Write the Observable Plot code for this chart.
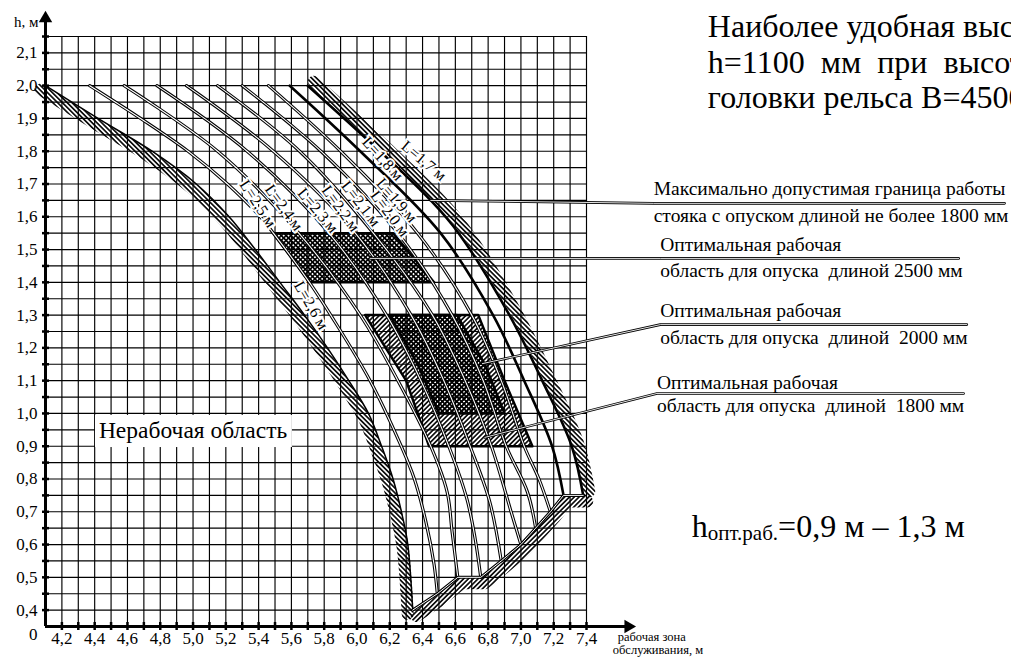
<!DOCTYPE html>
<html>
<head>
<meta charset="utf-8">
<script src="https://cdn.jsdelivr.net/npm/d3@7"></script>
<script src="https://cdn.jsdelivr.net/npm/@observablehq/plot@0.6"></script>
<style>
  html, body { margin: 0; padding: 0; background: #fff; }
  #chart svg { display: block; }
</style>
</head>
<body>
<div id="chart"></div>
<script>
const SERIF = "'Liberation Serif', 'Times New Roman', serif";

// ---------- tick values ----------
const X_LABELS = [4.2,4.4,4.6,4.8,5.0,5.2,5.4,5.6,5.8,6.0,6.2,6.4,6.6,6.8,7.0,7.2,7.4];
const X_GRID = [4.2,4.3,4.4,4.5,4.6,4.7,4.8,4.9,5.0,5.1,5.2,5.3,5.4,5.5,5.6,5.7,5.8,5.9,6.0,6.1,6.2,6.3,6.4,6.5,6.6,6.7,6.8,6.9,7.0,7.1,7.2,7.3,7.4];
const Y_LABELS = [0.4,0.5,0.6,0.7,0.8,0.9,1.0,1.1,1.2,1.3,1.4,1.5,1.6,1.7,1.8,1.9,2.0,2.1];
const Y_GRID = [0.40,0.45,0.50,0.55,0.60,0.65,0.70,0.75,0.80,0.85,0.90,0.95,1.00,1.05,1.10,1.15,1.20,1.25,1.30,1.35,1.40,1.45,1.50,1.55,1.60,1.65,1.70,1.75,1.80,1.85,1.90,1.95,2.00,2.05,2.10,2.15];

// ---------- curves: [x (m), h (m)] for each opusk length L ----------
const L26 = [[4.10,2.00],[4.42,1.90],[4.75,1.80],[5.02,1.70],[5.22,1.60],[5.38,1.50],[5.53,1.40],[5.68,1.30],[5.82,1.20],[5.95,1.10],[6.07,1.00],[6.15,0.90],[6.22,0.80],[6.28,0.68],[6.31,0.60],[6.34,0.40]];
const L25 = [[4.37,2.00],[4.68,1.90],[4.97,1.80],[5.21,1.70],[5.41,1.60],[5.49,1.55],[5.71,1.40],[5.84,1.30],[6.08,1.10],[6.27,0.90],[6.35,0.80],[6.42,0.67],[6.47,0.54],[6.49,0.45]];
const L24 = [[4.58,2.00],[5.15,1.80],[5.645,1.55],[6.02,1.30],[6.25,1.10],[6.45,0.90],[6.55,0.76],[6.58,0.64],[6.615,0.50]];
const L23 = [[4.78,2.00],[5.33,1.80],[5.83,1.55],[6.18,1.30],[6.39,1.10],[6.56,0.90],[6.67,0.74],[6.72,0.62],[6.755,0.50]];
const L22 = [[4.96,2.00],[5.49,1.80],[5.99,1.55],[6.33,1.30],[6.53,1.10],[6.69,0.90],[6.81,0.73],[6.88,0.55]];
const L21 = [[5.15,2.00],[5.65,1.80],[6.10,1.55],[6.46,1.30],[6.66,1.10],[6.82,0.90],[6.94,0.70],[7.00,0.60]];
const L20 = [[5.30,2.00],[5.78,1.80],[6.25,1.55],[6.58,1.30],[6.77,1.10],[6.91,0.90],[7.04,0.76],[7.09,0.65]];
const L19 = [[5.46,2.00],[5.90,1.80],[6.37,1.55],[6.70,1.30],[6.88,1.10],[7.02,0.90],[7.11,0.80],[7.18,0.70]];
const L18 = [[5.59,2.00],[6.02,1.80],[6.51,1.55],[6.83,1.30],[7.02,1.10],[7.19,0.90],[7.26,0.75]];
const L17 = [[5.70,2.00],[6.14,1.80],[6.45,1.65],[6.62,1.55],[6.93,1.30],[7.13,1.10],[7.31,0.90],[7.38,0.75]];
const BOTTOM = [[6.34,0.40],[6.49,0.45],[6.615,0.50],[6.755,0.50],[6.88,0.55],[7.00,0.60],[7.09,0.65],[7.18,0.70],[7.26,0.75],[7.38,0.75]];
const DOUBLE_CURVES = [L25, L24, L23, L22, L21, L20, L19];

// ---------- curve labels ----------
const CURVE_LABELS = [
  {x: 5.72, h: 1.330, text: "L=2,6 м", angle: 60},
  {x: 5.395, h: 1.640, text: "L=2,5 м", angle: 57},
  {x: 5.554, h: 1.628, text: "L=2,4 м", angle: 54},
  {x: 5.761, h: 1.619, text: "L=2,3 м", angle: 50},
  {x: 5.90, h: 1.625, text: "L=2,2 м", angle: 54},
  {x: 6.023, h: 1.640, text: "L=2,1 м", angle: 52},
  {x: 6.20, h: 1.610, text: "L=2,0 м", angle: 53},
  {x: 6.242, h: 1.650, text: "L=1,9 м", angle: 49},
  {x: 6.157, h: 1.777, text: "L=1,8 м", angle: 48},
  {x: 6.407, h: 1.771, text: "L=1,7 м", angle: 40}
];

// ---------- optimal working regions (rows: h, left x, right x) ----------
const REGION_2500 = [{h: 1.55, left: 5.49, right: 6.22}, {h: 1.40, left: 5.71, right: 6.47}];
const REGION_1800 = [{h: 1.30, left: 6.05, right: 6.74}, {h: 1.10, left: 6.30, right: 6.90}, {h: 0.90, left: 6.44, right: 7.07}];
const REGION_2000 = [{h: 1.30, left: 6.20, right: 6.61}, {h: 1.15, left: 6.37, right: 6.78}, {h: 1.00, left: 6.50, right: 6.90}];

// ---------- annotations ----------
const LEADERS = [
  [[6.45,1.650],[7.81,1.641],[9.95,1.641]],
  [[6.08,1.473],[7.85,1.473],[9.67,1.473]],
  [[6.765,1.152],[7.85,1.271],[9.72,1.271]],
  [[6.78,0.927],[7.83,1.061],[9.70,1.061]]
];
const NOTES = [
  {x: 7.81, h: 1.665, text: "Максимально допустимая граница работы"},
  {x: 7.81, h: 1.583, text: "стояка с опуском длиной не более 1800 мм"},
  {x: 7.85, h: 1.497, text: "Оптимальная рабочая"},
  {x: 7.85, h: 1.415, text: "область для опуска  длиной 2500 мм"},
  {x: 7.85, h: 1.293, text: "Оптимальная рабочая"},
  {x: 7.85, h: 1.213, text: "область для опуска  длиной  2000 мм"},
  {x: 7.83, h: 1.076, text: "Оптимальная рабочая"},
  {x: 7.83, h: 1.003, text: "область для опуска  длиной  1800 мм"}
];
const TOP_NOTE = [
  {x: 8.14, h: 2.147, text: "Наиболее удобная высота"},
  {x: 8.14, h: 2.040, text: "h=1100  мм  при  высоте"},
  {x: 8.14, h: 1.933, text: "головки рельса В=4500 мм"}
];
const NONWORK = {x1: 4.405, x2: 5.606, y1: 0.896, y2: 0.994, x: 5.0, h: 0.924, text: "Нерабочая область"};
const H_OPT = {x: 8.045, h: 0.622, main: "h", sub: "опт.раб.", rest: "=0,9 м – 1,3 м"};
const X_TITLE = [{x: 7.59, h: 0.306, text: "рабочая зона"}, {x: 7.56, h: 0.266, text: "обслуживания, м"}];

const fmt = d => d.toFixed(1).replace(".", ",");
const px = d => d[0], py = d => d[1];
const ring = rows => [...rows.map(r => [r.left, r.h]), ...rows.slice().reverse().map(r => [r.right, r.h]), [rows[0].left, rows[0].h]];

const marks = [
  // grid
  Plot.gridX(X_GRID, {stroke: "#000", strokeOpacity: 1, strokeWidth: 1.15}),
  Plot.gridY(Y_GRID, {stroke: "#000", strokeOpacity: 1, strokeWidth: 1.15}),

  // hatched boundary bands
  Plot.line(L26, {x: px, y: py, curve: "catmull-rom", stroke: "url(#hatchB)", strokeWidth: 12, dx: -5, dy: 4}),
  Plot.line(L17, {x: px, y: py, curve: "catmull-rom", stroke: "url(#hatchB)", strokeWidth: 12, dx: 6, dy: -4}),
  Plot.line(BOTTOM, {x: px, y: py, stroke: "url(#hatchF)", strokeWidth: 12, dx: 4, dy: 6}),

  // regions
  Plot.areaX(REGION_1800, {y: "h", x1: "left", x2: "right", fill: "url(#hatchF)", curve: "catmull-rom"}),
  Plot.areaX(REGION_2000, {y: "h", x1: "left", x2: "right", fill: "url(#cross)", curve: "catmull-rom"}),
  Plot.areaX(REGION_2500, {y: "h", x1: "left", x2: "right", fill: "url(#cross)"}),
  Plot.line(ring(REGION_1800), {x: px, y: py, stroke: "#000", strokeWidth: 2.5}),
  Plot.line(ring(REGION_2000), {x: px, y: py, stroke: "#000", strokeWidth: 2.5}),
  Plot.line(ring(REGION_2500), {x: px, y: py, stroke: "#000", strokeWidth: 2.5}),

  // double-line curves
  ...DOUBLE_CURVES.flatMap(c => [
    Plot.line(c, {x: px, y: py, curve: "catmull-rom", stroke: "#000", strokeWidth: 3.2}),
    Plot.line(c, {x: px, y: py, curve: "catmull-rom", stroke: "#fff", strokeWidth: 1.1})
  ]),
  // boundary curves
  Plot.line(L26, {x: px, y: py, curve: "catmull-rom", stroke: "#000", strokeWidth: 1.5}),
  Plot.line(L18, {x: px, y: py, curve: "catmull-rom", stroke: "#000", strokeWidth: 2.6}),
  Plot.line(L17, {x: px, y: py, curve: "catmull-rom", stroke: "#000", strokeWidth: 2.6}),
  Plot.line(BOTTOM, {x: px, y: py, stroke: "#000", strokeWidth: 3}),
  Plot.line(BOTTOM, {x: px, y: py, stroke: "#fff", strokeWidth: 1}),

  // curve labels
  Plot.text(CURVE_LABELS, {x: "x", y: "h", text: "text", rotate: "angle", fontSize: 16, fontFamily: SERIF, fill: "#000",
    stroke: "#fff", strokeWidth: 4, paintOrder: "stroke"}),

  // non-working area label
  Plot.rect([NONWORK], {x1: "x1", x2: "x2", y1: "y1", y2: "y2", fill: "#fff"}),
  Plot.text([NONWORK], {x: "x", y: "h", text: "text", fontSize: 23.5, fontFamily: SERIF, lineAnchor: "bottom"}),

  // leaders (double lines)
  ...LEADERS.flatMap(l => [
    Plot.line(l, {x: px, y: py, stroke: "#000", strokeWidth: 2.6}),
    Plot.line(l, {x: px, y: py, stroke: "#fff", strokeWidth: 0.9})
  ]),
  Plot.text(NOTES, {x: "x", y: "h", text: "text", textAnchor: "start", lineAnchor: "bottom", fontSize: 19.5, fontFamily: SERIF}),
  Plot.text(TOP_NOTE, {x: "x", y: "h", text: "text", textAnchor: "start", lineAnchor: "bottom", fontSize: 32, fontFamily: SERIF}),
  Plot.text(X_TITLE, {x: "x", y: "h", text: "text", textAnchor: "start", lineAnchor: "bottom", fontSize: 12.5, fontFamily: SERIF}),

  // axes
  Plot.ruleX([4.1], {y1: 0.35, y2: 2.2, stroke: "#000", strokeWidth: 3}),
  Plot.ruleY([0.35], {x1: 4.1, x2: 7.64, stroke: "#000", strokeWidth: 3}),
  Plot.dot([[4.1, 2.205]], {x: px, y: py, symbol: "triangle", r: 5, fill: "#000", stroke: "none"}),
  Plot.dot([[7.655, 0.35]], {x: px, y: py, symbol: "triangle", r: 5, fill: "#000", stroke: "none", rotate: 90}),
  Plot.axisY(Y_GRID, {anchor: "left", tickSize: 7, dx: 4, strokeWidth: 2.5, tickFormat: () => "", label: null}),
  Plot.axisY(Y_LABELS, {anchor: "left", tickSize: 0, tickPadding: 8, tickFormat: fmt, fontSize: 17, fontFamily: SERIF, label: null}),
  Plot.axisX(X_GRID, {anchor: "bottom", tickSize: 8, dy: -4, strokeWidth: 2.5, tickFormat: () => "", label: null}),
  Plot.axisX(X_LABELS, {anchor: "bottom", tickSize: 0, tickPadding: 5, tickFormat: fmt, fontSize: 17, fontFamily: SERIF, label: null}),
  Plot.text([[4.1, 0.35]], {x: px, y: py, text: ["0"], dx: -8, dy: 8, textAnchor: "end", fontSize: 17, fontFamily: SERIF}),
  Plot.text([[4.1, 2.15]], {x: px, y: py, text: ["h, м"], dx: -7, dy: -10, textAnchor: "end", lineAnchor: "bottom", fontSize: 15, fontFamily: SERIF})
];

const svg = Plot.plot({
  width: 1011,
  height: 660,
  marginLeft: 45,
  marginRight: 425,
  marginTop: 36,
  marginBottom: 34,
  x: {domain: [4.1, 7.4]},
  y: {domain: [0.35, 2.15]},
  style: {fontFamily: SERIF, fontSize: "16px", background: "#fff", color: "#000"},
  marks
});

svg.insertAdjacentHTML("afterbegin", `<defs>
  <pattern id="hatchF" patternUnits="userSpaceOnUse" width="3.4" height="3.4" patternTransform="rotate(45)">
    <line x1="1.7" y1="0" x2="1.7" y2="3.4" stroke="#000" stroke-width="1.6"/>
  </pattern>
  <pattern id="hatchB" patternUnits="userSpaceOnUse" width="3.4" height="3.4" patternTransform="rotate(-45)">
    <line x1="1.7" y1="0" x2="1.7" y2="3.4" stroke="#000" stroke-width="1.6"/>
  </pattern>
  <pattern id="cross" patternUnits="userSpaceOnUse" width="3.4" height="3.4" patternTransform="rotate(45)">
    <path d="M0,1.7H3.4M1.7,0V3.4" stroke="#000" stroke-width="1.6"/>
  </pattern>
</defs>`);

// h_opt annotation with subscript, positioned through the plot's scales
const sx = svg.scale("x"), sy = svg.scale("y");
const ns = "http://www.w3.org/2000/svg";
const t = document.createElementNS(ns, "text");
t.setAttribute("x", sx.apply(H_OPT.x));
t.setAttribute("y", sy.apply(H_OPT.h));
t.setAttribute("text-anchor", "start");
t.setAttribute("font-size", 32);
t.setAttribute("font-family", SERIF);
t.setAttribute("fill", "#000");
const s1 = document.createElementNS(ns, "tspan"); s1.textContent = H_OPT.main;
const s2 = document.createElementNS(ns, "tspan"); s2.textContent = H_OPT.sub; s2.setAttribute("font-size", 21); s2.setAttribute("dy", 3);
const s3 = document.createElementNS(ns, "tspan"); s3.textContent = H_OPT.rest; s3.setAttribute("dy", -3);
t.append(s1, s2, s3);
svg.append(t);

document.getElementById("chart").append(svg);
</script>
</body>
</html>
